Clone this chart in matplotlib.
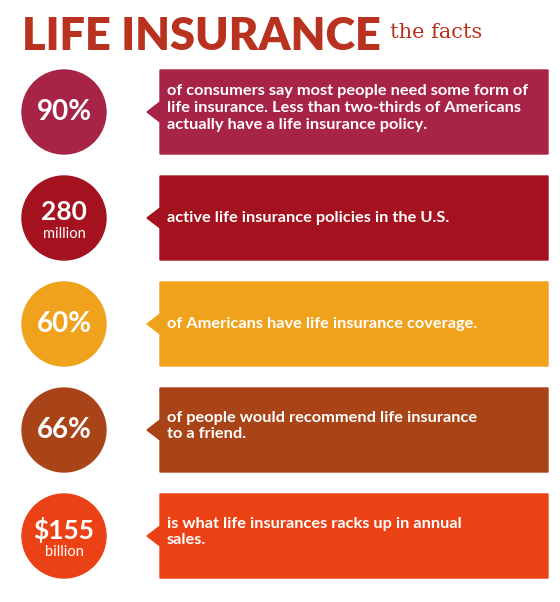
import matplotlib.pyplot as plt
from matplotlib.patches import Circle, Polygon

# the facts
values = ['90%', '280', '60%', '66%', '$155']
units = ['', 'million', '', '', 'billion']
texts = ['of consumers say most people need some form of\nlife insurance. Less than two-thirds of Americans\nactually have a life insurance policy.',
         'active life insurance policies in the U.S.',
         'of Americans have life insurance coverage.',
         'of people would recommend life insurance\nto a friend.',
         'is what life insurances racks up in annual\nsales.']
colors = ['#A82447', '#A3121E', '#F0A21C', '#A84418', '#EA4215']

fig = plt.figure(figsize=(5.6, 6.02), dpi=100)
ax = fig.add_axes([0, 0, 1, 1])
ax.set_xlim(0, 560)
ax.set_ylim(602, 0)
ax.axis('off')

ax.text(22, 36, 'LIFE INSURANCE', fontsize=32.5, fontweight='heavy', color='#B8321F',
        family='Lato', va='center', ha='left')
ax.text(390, 33, 'the facts', fontsize=15, color='#B8321F', family='DejaVu Serif',
        va='center', ha='left')

top0 = 70
step = 106
for i in range(len(values)):
    top = top0 + i * step
    bot = top + 84
    cy = (top + bot) / 2
    c = colors[i]
    ax.add_patch(Circle((64, cy), 42, color=c))
    ax.add_patch(Polygon([[160, top], [548, top], [548, bot], [160, bot],
                          [160, cy + 10], [147, cy], [160, cy - 10]], closed=True, color=c))
    if units[i]:
        ax.text(64, cy - 6, values[i], fontsize=19, fontweight='bold', color='white',
                family='Lato', ha='center', va='center')
        ax.text(64, cy + 16, units[i], fontsize=10.5, color='white',
                family='Lato', ha='center', va='center')
    else:
        ax.text(64, cy, values[i], fontsize=20, fontweight='bold', color='white',
                family='Lato', ha='center', va='center')
    ty = cy - 4 if '\n' in texts[i] else cy
    ax.text(167, ty, texts[i], fontsize=11.8, fontweight='bold', color='white',
            family='Lato', ha='left', va='center', linespacing=1.25)

fig.savefig('out.png', dpi=100)
